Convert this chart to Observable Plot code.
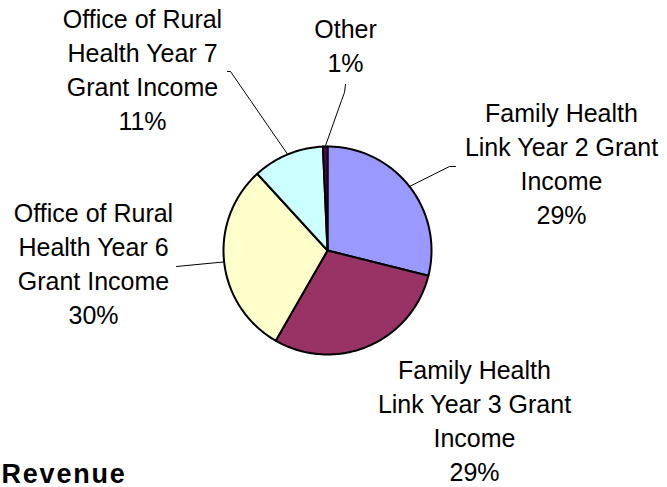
<!DOCTYPE html>
<html>
<head>
<meta charset="utf-8">
<script src="https://cdn.jsdelivr.net/npm/d3@7"></script>
<script src="https://cdn.jsdelivr.net/npm/@observablehq/plot@0.6"></script>
<style>
  html, body { margin: 0; padding: 0; background: #fff; }
  #chart svg { display: block; }
</style>
</head>
<body>
<div id="chart"></div>
<script>
// ---- data ----
const categories = [
  "Family Health Link Year 2 Grant Income",
  "Family Health Link Year 3 Grant Income",
  "Office of Rural Health Year 6 Grant Income",
  "Office of Rural Health Year 7 Grant Income",
  "Other"
];
const values = [28.9, 29.4, 29.9, 11.1, 0.7];
const pctLabels = ["29%", "29%", "30%", "11%", "1%"];
const labelTexts = [
  "Family Health\nLink Year 2 Grant\nIncome",
  "Family Health\nLink Year 3 Grant\nIncome",
  "Office of Rural\nHealth Year 6\nGrant Income",
  "Office of Rural\nHealth Year 7\nGrant Income",
  "Other"
];
const colors = ["#9999FF", "#993366", "#FFFFCC", "#CCFFFF", "#660066"];
const title = "Revenue";

// ---- layout (pixel geometry of the chart) ----
const W = 667, H = 487, CX = 327, CY = 250, R = 104;
// label anchor (center x, last-line baseline y) and leader line waypoints, in pixels
const labelLayout = [
  {x: 561, y: 223, leader: [[449, 166], [455, 166]]},
  {x: 474, y: 480, leader: null},
  {x: 93,  y: 323, leader: [[176, 266]]},
  {x: 142, y: 129, leader: [[230, 71], [227, 71]]},
  {x: 345, y: 71,  leader: [[341, 100], [344, 92], [345, 84]]}
];
const px = (p) => (p - CX) / R;
const py = (p) => (CY - p) / R;

// ---- build geometry via d3.pie ----
const pieData = d3.pie().sort(null).value(d => d)(values);
const slicePts = [];
pieData.forEach((s, i) => {
  const cat = categories[i];
  slicePts.push({cat, x: 0, y: 0});
  const n = Math.max(2, Math.ceil((s.endAngle - s.startAngle) / (Math.PI / 180)));
  for (let k = 0; k <= n; k++) {
    const a = s.startAngle + (s.endAngle - s.startAngle) * k / n;
    slicePts.push({cat, x: Math.sin(a), y: Math.cos(a)});
  }
  slicePts.push({cat, x: 0, y: 0});
});

const leaderPts = [];
const labels = [];
pieData.forEach((s, i) => {
  const L = labelLayout[i];
  labels.push({x: px(L.x), y: py(L.y), text: labelTexts[i] + "\n" + pctLabels[i]});
  if (!L.leader) return;
  const mid = (s.startAngle + s.endAngle) / 2;
  leaderPts.push({id: i, x: Math.sin(mid), y: Math.cos(mid)});
  L.leader.forEach(([lx, ly]) => leaderPts.push({id: i, x: px(lx), y: py(ly)}));
});

const font = "'Liberation Sans', Arial, sans-serif";

const chart = Plot.plot({
  width: W,
  height: H,
  margin: 0,
  style: {fontFamily: font, background: "#fff", color: "#000"},
  x: {domain: [px(0), px(W)], axis: null},
  y: {domain: [py(H), py(0)], axis: null},
  color: {domain: categories, range: colors},
  marks: [
    Plot.line(slicePts, {x: "x", y: "y", z: "cat", fill: "cat", stroke: "#000", strokeWidth: 2, strokeLinejoin: "round", curve: "linear-closed"}),
    Plot.line(leaderPts, {x: "x", y: "y", z: "id", stroke: "#000", strokeWidth: 1}),
    Plot.text(labels, {x: "x", y: "y", text: "text", lineAnchor: "bottom", textAnchor: "middle", fontSize: 25, lineHeight: 1.36, fill: "#000", fontFamily: font}),
    Plot.text([title], {frameAnchor: "bottom-left", text: d => d, lineAnchor: "bottom", textAnchor: "start", dx: 1, dy: -5, fontSize: 27, fontWeight: "bold", fill: "#000", fontFamily: font})
  ]
});

d3.select(chart).selectAll("text").filter(function() { return this.textContent === title; })
  .style("letter-spacing", "1.8px");

document.getElementById("chart").appendChild(chart);
</script>
</body>
</html>
